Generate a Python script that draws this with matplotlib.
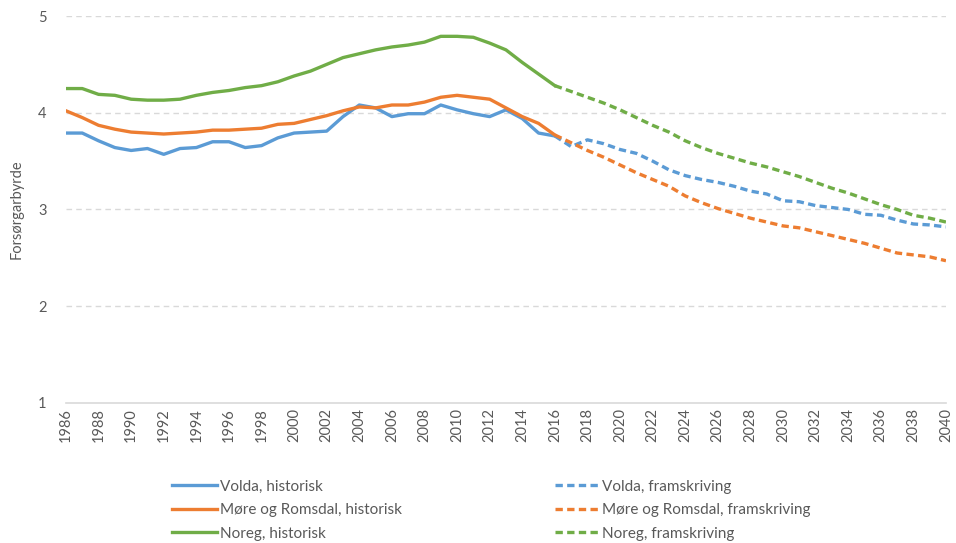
import matplotlib.pyplot as plt

years_hist = list(range(1986, 2017))
years_proj = list(range(2016, 2041))

volda_hist = [3.79, 3.79, 3.71, 3.64, 3.61, 3.63, 3.57, 3.63, 3.64, 3.70, 3.70,
              3.64, 3.66, 3.74, 3.79, 3.80, 3.81, 3.96, 4.08, 4.05, 3.96, 3.99,
              3.99, 4.08, 4.03, 3.99, 3.96, 4.03, 3.94, 3.79, 3.76]
more_hist = [4.02, 3.95, 3.87, 3.83, 3.80, 3.79, 3.78, 3.79, 3.80, 3.82, 3.82,
             3.83, 3.84, 3.88, 3.89, 3.93, 3.97, 4.02, 4.06, 4.05, 4.08, 4.08,
             4.11, 4.16, 4.18, 4.16, 4.14, 4.05, 3.96, 3.89, 3.77]
noreg_hist = [4.25, 4.25, 4.19, 4.18, 4.14, 4.13, 4.13, 4.14, 4.18, 4.21, 4.23,
              4.26, 4.28, 4.32, 4.38, 4.43, 4.50, 4.57, 4.61, 4.65, 4.68, 4.70,
              4.73, 4.79, 4.79, 4.78, 4.72, 4.65, 4.52, 4.40, 4.28]

volda_proj = [3.76, 3.65, 3.72, 3.68, 3.62, 3.58, 3.50, 3.41, 3.35, 3.31, 3.28,
              3.24, 3.19, 3.16, 3.09, 3.08, 3.04, 3.02, 3.00, 2.95, 2.94, 2.89,
              2.85, 2.84, 2.82]
more_proj = [3.77, 3.69, 3.61, 3.54, 3.46, 3.38, 3.31, 3.24, 3.14, 3.07, 3.01,
             2.96, 2.91, 2.87, 2.83, 2.81, 2.77, 2.73, 2.69, 2.65, 2.60, 2.55,
             2.53, 2.51, 2.47]
noreg_proj = [4.28, 4.22, 4.16, 4.10, 4.03, 3.95, 3.87, 3.80, 3.71, 3.64, 3.58,
              3.53, 3.48, 3.44, 3.39, 3.34, 3.28, 3.22, 3.17, 3.11, 3.05, 3.00,
              2.94, 2.91, 2.87]

blue = '#5B9BD5'
orange = '#ED7D31'
green = '#70AD47'
grey = '#595959'

plt.rcParams['font.family'] = ['Lato', 'DejaVu Sans']

fig = plt.figure(figsize=(9.56, 5.43), dpi=100)
ax = fig.add_axes([0.069, 0.258, 0.9205, 0.7125])

lw = 2.4
dash = (0, (2.2, 1.3))
h1, = ax.plot(years_hist, volda_hist, color=blue, lw=lw, label='Volda, historisk')
h2, = ax.plot(years_hist, more_hist, color=orange, lw=lw, label='Møre og Romsdal, historisk')
h3, = ax.plot(years_hist, noreg_hist, color=green, lw=lw, label='Noreg, historisk')
h4, = ax.plot(years_proj, volda_proj, color=blue, lw=lw, ls=dash, label='Volda, framskriving')
h5, = ax.plot(years_proj, more_proj, color=orange, lw=lw, ls=dash, label='Møre og Romsdal, framskriving')
h6, = ax.plot(years_proj, noreg_proj, color=green, lw=lw, ls=dash, label='Noreg, framskriving')

ax.set_xlim(1986, 2040)
ax.set_ylim(1, 5)
ax.set_yticks([1, 2, 3, 4, 5])
ax.set_xticks(list(range(1986, 2041, 2)))
ax.tick_params(axis='x', labelrotation=90, length=0, labelsize=10.5, colors=grey, pad=4)
ax.tick_params(axis='y', length=0, labelsize=10.5, colors=grey, pad=14)
for s in ['top', 'right', 'left']:
    ax.spines[s].set_visible(False)
ax.spines['bottom'].set_color('#D9D9D9')
ax.spines['bottom'].set_linewidth(1.2)
for y in [2, 3, 4, 5]:
    ax.axhline(y, color='#D9D9D9', lw=1, ls=(0, (4, 3)), zorder=0)
ax.set_ylabel('Forsørgarbyrde', color=grey, fontsize=10.5, labelpad=10)

fig.legend(handles=[h1, h2, h3, h4, h5, h6], loc='upper left',
           bbox_to_anchor=(0.174, 0.128), ncol=2, frameon=False,
           fontsize=11, labelcolor=grey, handlelength=2.9, handletextpad=0.2,
           columnspacing=10.0, labelspacing=0.62, borderaxespad=0)

fig.savefig('out.png', dpi=100)
